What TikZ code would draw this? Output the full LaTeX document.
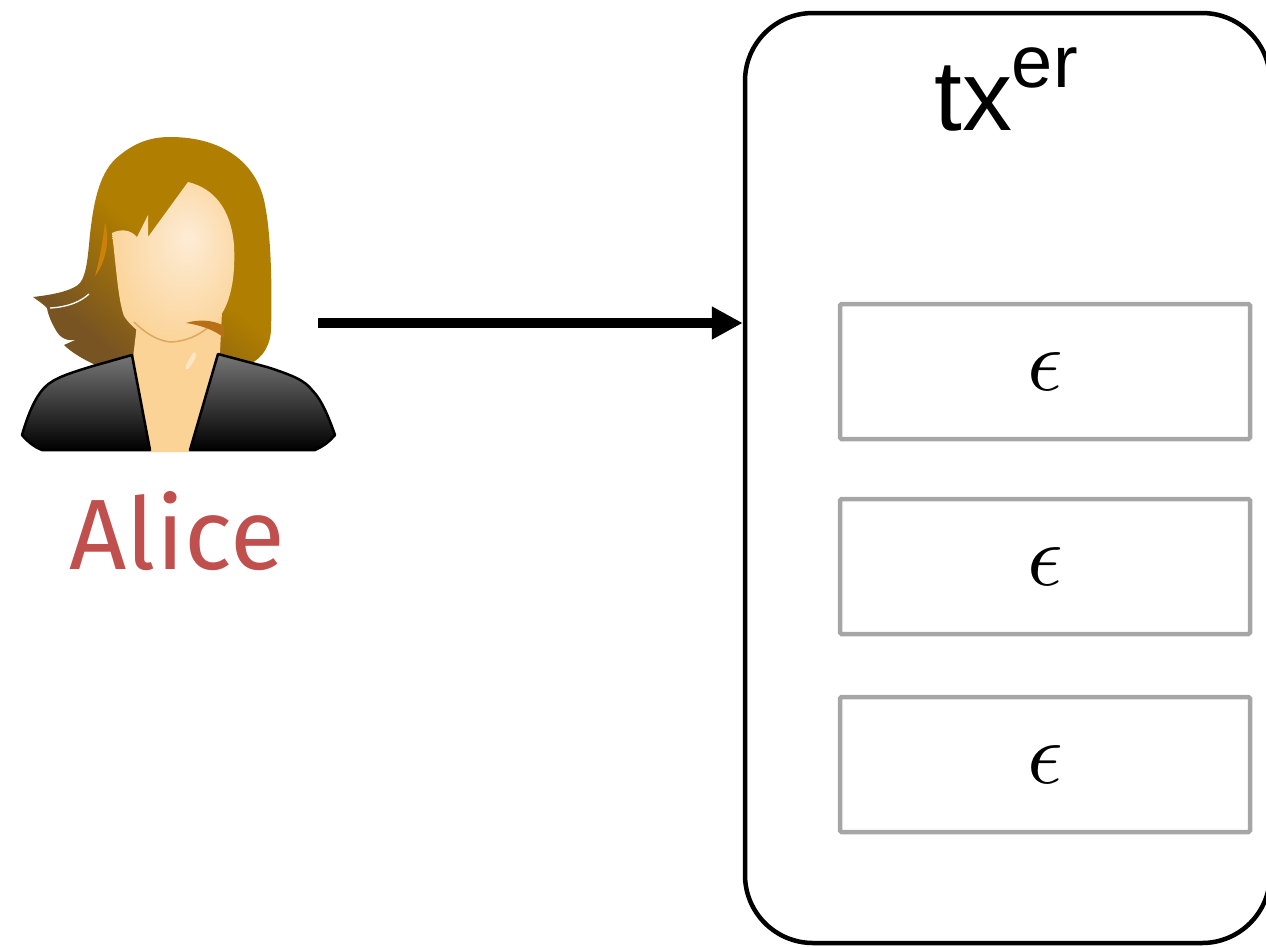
\documentclass[tikz,border=0pt]{standalone}
\usepackage{fontspec}
\usetikzlibrary{arrows.meta}
\newfontfamily\labelfont{Fira Sans}
\newfontfamily\titlefont{Liberation Sans}

\definecolor{hairGold}{RGB}{176,126,0}
\definecolor{hairDark}{RGB}{120,84,34}
\definecolor{hairShine}{RGB}{204,130,6}
\definecolor{hairStrand}{RGB}{184,112,22}
\definecolor{skin}{RGB}{251,211,150}
\definecolor{skinLight}{RGB}{253,236,214}
\definecolor{chinLine}{RGB}{222,168,96}
\definecolor{jacketTop}{RGB}{118,118,118}
\definecolor{aliceRed}{RGB}{192,80,77}
\definecolor{slotGray}{RGB}{166,166,166}

% soft highlight for the face, slightly off-centre
\pgfdeclareradialshading{facelight}{\pgfpoint{6bp}{8bp}}{%
  color(0bp)=(skinLight); color(30bp)=(skin); color(50bp)=(skin)}
% hair: golden on top, brown toward the lower-left curls
\pgfdeclareverticalshading{hairfall}{100bp}{%
  color(0bp)=(hairDark); color(28bp)=(hairDark); color(52bp)=(hairGold); color(100bp)=(hairGold)}

\newcommand{\bigeps}{\scalebox{8.8}{$\epsilon$}}

\tikzset{
  container/.style={draw=black, line width=4.5pt, rounded corners=68pt,
    minimum width=525pt, minimum height=930pt, inner sep=0pt},
  slot/.style={draw=slotGray, line width=4.5pt, rounded corners=1.5pt,
    minimum width=410pt, minimum height=135pt, inner sep=0pt},
  flow/.style={line width=10pt, -{Triangle[length=31pt,width=31pt]}},
  jacket/.style={top color=jacketTop, bottom color=black, draw=black,
    line width=2.5pt, line join=round},
}

\begin{document}
\begin{tikzpicture}[x=1pt,y=-1pt]
\useasboundingbox (0,0) rectangle (1266,946);
\clip (0,0) rectangle (1266,946);

% ---- user icon ----
% hair
\shade[shading=hairfall, shading angle=-40]
  (170,137) .. controls (225,137) and (258,165) .. (265,205)
  .. controls (272,240) and (272,300) .. (271,330)
  .. controls (270,350) and (258,362) .. (245,366)
  -- (100,367)
  .. controls (86,361) and (72,353) .. (64,345)
  -- (82,337)
  .. controls (72,343) and (62,340) .. (57,332)
  .. controls (52,324) and (48,315) .. (47,308)
  .. controls (42,303) and (37,300) .. (33,297)
  .. controls (50,295) and (68,292) .. (78,285)
  .. controls (85,279) and (87,265) .. (89,245)
  .. controls (93,200) and (100,170) .. (120,155)
  .. controls (135,143) and (150,137) .. (170,137) -- cycle;
\draw[white, line width=1.3pt] (50,308) .. controls (68,307) and (80,302) .. (89,294);

% neck
\fill[skin] (138,316) -- (133,358) -- (150,452) -- (190,452) -- (220,352) -- (222,312) -- cycle;

% face
\shade[shading=facelight]
  (188,182) .. controls (213,188) and (231,208) .. (234,245)
  .. controls (236,285) and (228,312) .. (212,325)
  .. controls (198,337) and (182,343) .. (168,342)
  .. controls (150,341) and (133,330) .. (124,316)
  .. controls (118,300) and (116,265) .. (112,233)
  .. controls (120,229) and (130,229) .. (137,237)
  -- (148,215) -- (148,237) -- cycle;
\draw[chinLine, line width=1.5pt]
  (134,322) .. controls (148,336) and (162,342) .. (172,342)
  .. controls (186,341) and (198,336) .. (210,326);
% loose strands
\fill[hairStrand] (186,323) .. controls (198,319) and (214,320) .. (224,326)
  -- (224,338) .. controls (215,330) and (200,325) .. cycle;
\fill[hairShine] (105,222) .. controls (110,240) and (106,262) .. (95,276)
  .. controls (100,258) and (103,240) .. cycle;

% jacket
\shade[jacket] (132,355) -- (150,450) -- (42,450)
  .. controls (34,447) and (27,441) .. (22,435)
  .. controls (27,418) and (34,398) .. (45,387)
  .. controls (54,378) and (70,373) .. (93,366) -- cycle;
\shade[jacket] (218,354) -- (190,450) -- (315,450)
  .. controls (324,446) and (330,441) .. (335,435)
  .. controls (329,418) and (322,400) .. (312,390)
  .. controls (305,381) and (295,376) .. (267,367) -- cycle;
\fill[white, opacity=.45] (194,352) .. controls (198,352) and (196,360) .. (188,369)
  .. controls (184,371) and (185,364) .. cycle;

\node[font=\labelfont\fontsize{100}{100}\selectfont, text=aliceRed, anchor=base, inner sep=0pt]
  (alice) at (177,569) {Alice};

% ---- transaction container ----
\node[container] (txbox) at (1007.5,478) {};
\node[anchor=base west, inner sep=0pt] (title) at (934,130)
  {\titlefont\fontsize{100}{100}\selectfont tx\raisebox{43pt}{\fontsize{74}{74}\selectfont er}};

\node[slot] (e1) at (1045,371.5) {\bigeps};
\node[slot] (e2) at (1045,566.5) {\bigeps};
\node[slot] (e3) at (1045,764.5) {\bigeps};

% ---- input arrow ----
\coordinate (src) at (318,323);
\draw[flow] (src) -- (src -| txbox.west);
\end{tikzpicture}
\end{document}
